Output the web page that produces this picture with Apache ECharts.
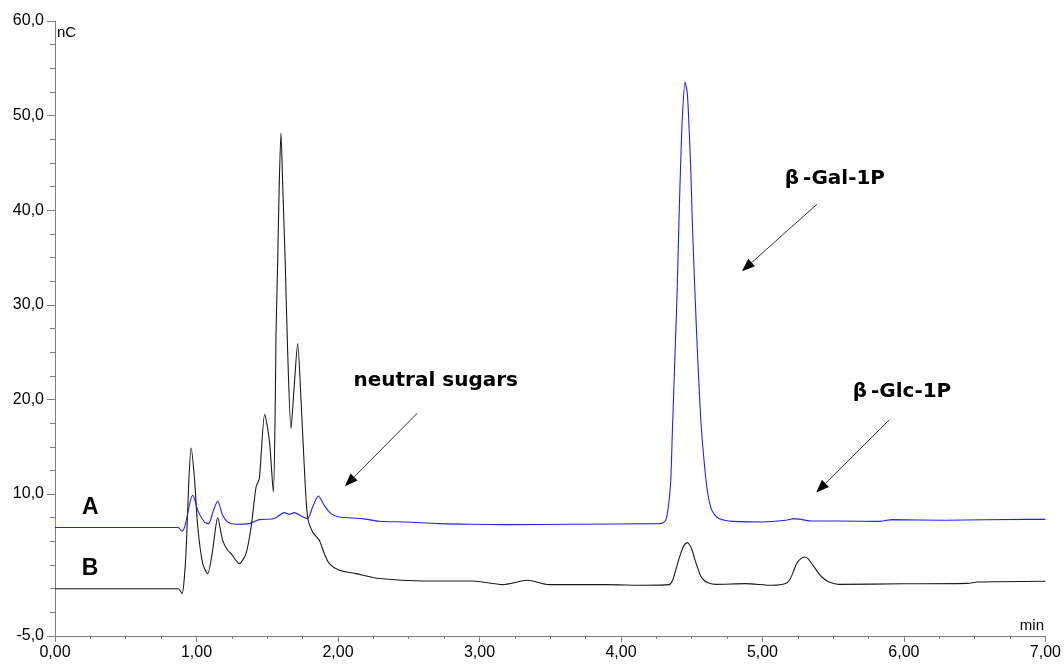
<!DOCTYPE html>
<html>
<head>
<meta charset="utf-8">
<script src="https://cdn.jsdelivr.net/npm/echarts@6/dist/echarts.min.js"></script>
<style>
html,body{margin:0;padding:0;background:#fff;}
#chart{width:1064px;height:664px;}
</style>
</head>
<body>
<div id="chart"></div>
<script>
// ---- data (retention time in min, signal in nC) ----
const timeA = [0.00,0.87,0.898,0.918,0.938,0.955,0.973,0.990,1.009,1.056,1.086,1.118,1.150,1.185,1.220,1.280,1.374,1.444,1.550,1.621,1.656,1.691,1.750,1.785,1.821,1.861,1.903,1.950,2.009,2.174,2.292,2.480,2.715,2.951,3.186,3.657,4.269,4.300,4.318,4.328,4.340,4.352,4.363,4.375,4.387,4.398,4.410,4.422,4.434,4.453,4.469,4.481,4.493,4.504,4.516,4.528,4.540,4.563,4.587,4.610,4.634,4.660,4.693,4.740,4.787,4.999,5.164,5.222,5.260,5.352,5.540,5.823,5.917,6.294,6.859,7.00];
const signalA = [6.46,6.46,6.07,6.6,7.94,9.2,9.87,9.3,8.28,7.05,6.88,8.2,9.27,7.76,7.05,6.81,6.88,7.30,7.41,8.04,7.86,8.04,7.6,7.41,8.63,9.80,8.81,7.94,7.58,7.41,7.12,7.05,6.88,6.81,6.77,6.81,6.88,7.0,7.3,7.94,9.3,11.46,16.39,21.68,26.96,31.89,38.94,44.93,49.85,53.55,52.33,48.8,44.57,38.94,34.0,29.42,25.2,18.15,13.57,10.4,8.63,7.85,7.41,7.2,7.12,7.05,7.23,7.41,7.35,7.15,7.15,7.12,7.30,7.23,7.33,7.33];

const timeB = [0.00,0.87,0.898,0.912,0.927,0.945,0.962,0.985,1.009,1.044,1.079,1.114,1.150,1.185,1.220,1.244,1.303,1.350,1.386,1.421,1.444,1.482,1.515,1.543,1.557,1.562,1.573,1.585,1.597,1.609,1.628,1.644,1.668,1.691,1.715,1.739,1.762,1.785,1.821,1.868,1.903,1.939,2.009,2.127,2.292,2.597,2.951,3.163,3.339,3.492,3.893,4.175,4.340,4.365,4.387,4.405,4.422,4.445,4.469,4.487,4.503,4.520,4.540,4.562,4.587,4.620,4.669,4.881,5.069,5.164,5.195,5.222,5.240,5.258,5.298,5.320,5.340,5.370,5.399,5.430,5.470,5.540,6.00,6.45,6.52,7.00];
const signalB = [0.00,0.00,-0.52,0.8,4.06,11.1,14.87,11.8,6.52,2.65,1.59,4.06,7.51,5.11,4.06,3.71,2.65,3.71,6.52,10.75,11.64,18.43,15.68,10.22,19.9,26.96,34.0,42.81,48.16,42.85,34.0,25.2,16.92,21.5,25.9,19.9,12.86,7.58,5.99,5.11,3.71,2.65,1.94,1.59,1.07,0.81,0.81,0.43,0.89,0.43,0.43,0.36,0.43,0.9,1.94,2.9,3.71,4.55,4.87,4.6,4.06,3.2,2.29,1.4,0.89,0.6,0.46,0.54,0.36,0.54,1.0,1.94,2.6,3.0,3.35,3.2,2.82,2.2,1.59,1.1,0.71,0.46,0.52,0.56,0.70,0.78];

const yLabelValues = [-5,10,20,30,40,50,60];
const yMinorValues = [-5,-2.5,0,2.5,5,7.5,10,12.5,15,17.5,20,22.5,25,27.5,30,32.5,35,37.5,40,42.5,45,47.5,50,52.5,55,57.5,60];

const traceNames = ['A','B'];
const tracePos = [[0.249,8.55],[0.247,2.08]];
const annotLabels = ['neutral sugars','\u03B2\u2009-Gal-1P','\u03B2\u2009-Glc-1P'];
const annotPos = [[2.691,21.97],[5.512,43.37],[5.986,20.76]];
const arrowFrom = [[2.560,18.54],[5.385,40.63],[5.898,17.87]];
const arrowTo = [[2.049,10.82],[4.855,33.55],[5.380,10.16]];

const zip = (xs, ys) => xs.map((x, i) => [x, ys[i]]);
const axisGray = '#7f7f7f';
const labelFont = 'Liberation Sans';

const chart = echarts.init(document.getElementById('chart'), null, {renderer: 'canvas'});
const option = {
  animation: false,
  backgroundColor: '#ffffff',
  grid: {left: 55, right: 17, top: 21, bottom: 28, containLabel: false},
  xAxis: {
    type: 'value', min: 0, max: 7, interval: 1,
    axisLine: {show: true, onZero: false, lineStyle: {color: axisGray, width: 1}},
    axisTick: {show: true, length: 6, lineStyle: {color: axisGray}},
    minorTick: {show: true, splitNumber: 4, length: 3, lineStyle: {color: axisGray}},
    splitLine: {show: false},
    axisLabel: {
      fontSize: 16, fontFamily: labelFont, color: '#000', margin: 9,
      showMinLabel: true, showMaxLabel: true,
      formatter: v => v.toFixed(2).replace('.', ',')
    }
  },
  yAxis: [{
    type: 'value', min: -5, max: 60, interval: 2.5, position: 'left',
    axisLine: {show: true, onZero: false, lineStyle: {color: axisGray, width: 1}},
    axisTick: {show: true, length: 8, customValues: yLabelValues, lineStyle: {color: axisGray}},
    splitLine: {show: false},
    axisLabel: {
      fontSize: 16, fontFamily: labelFont, color: '#000', margin: 11,
      customValues: yLabelValues,
      formatter: v => (yLabelValues.indexOf(v) >= 0 ? v.toFixed(1).replace('.', ',') : '')
    }
  }, {
    type: 'value', min: -5, max: 60, interval: 2.5, position: 'left',
    axisLine: {show: false, onZero: false},
    axisTick: {show: true, length: 5, customValues: yMinorValues, lineStyle: {color: axisGray}},
    axisLabel: {show: false},
    splitLine: {show: false}
  }],
  series: [{
    name: 'A', type: 'line', yAxisIndex: 0, data: zip(timeA, signalA),
    showSymbol: false, symbol: 'none', smooth: 0.25,
    lineStyle: {color: '#2020ff', width: 1.1}, z: 3
  }, {
    name: 'B', type: 'line', yAxisIndex: 0, data: zip(timeB, signalB),
    showSymbol: false, symbol: 'none', smooth: 0.25,
    lineStyle: {color: '#1a1a1a', width: 1.1}, z: 2
  }]
};
chart.setOption(option);

const px = p => chart.convertToPixel({gridIndex: 0}, p);
const graphics = [];
// axis unit titles
graphics.push({type: 'text', x: 57, y: 33, style: {text: 'nC', font: '15px "Liberation Sans"', fill: '#000', align: 'left', verticalAlign: 'middle'}});
graphics.push({type: 'text', x: 1044, y: 626, style: {text: 'min', font: '15px "Liberation Sans"', fill: '#000', align: 'right', verticalAlign: 'middle'}});
// trace labels
traceNames.forEach((t, i) => {
  const p = px(tracePos[i]);
  graphics.push({type: 'text', x: p[0], y: p[1], style: {text: t, font: 'bold 23px "Liberation Sans"', fill: '#000', align: 'center', verticalAlign: 'middle'}});
});
// annotations with arrows
annotLabels.forEach((t, i) => {
  const p = px(annotPos[i]);
  graphics.push({type: 'text', x: p[0], y: p[1], style: {text: t, font: 'bold 20px "DejaVu Sans"', fill: '#000', align: 'center', verticalAlign: 'middle'}});
  const s = px(arrowFrom[i]), e = px(arrowTo[i]);
  const dx = e[0] - s[0], dy = e[1] - s[1];
  const len = Math.sqrt(dx * dx + dy * dy);
  const ux = dx / len, uy = dy / len;
  const L = 13, W = 5;
  const bx = e[0] - ux * L, by = e[1] - uy * L;
  graphics.push({type: 'line', shape: {x1: s[0], y1: s[1], x2: bx, y2: by}, style: {stroke: '#333', lineWidth: 1}});
  graphics.push({type: 'polygon', shape: {points: [[e[0], e[1]], [bx - uy * W, by + ux * W], [bx + uy * W, by - ux * W]]}, style: {fill: '#000'}});
});
chart.setOption({graphic: graphics});
</script>
</body>
</html>
